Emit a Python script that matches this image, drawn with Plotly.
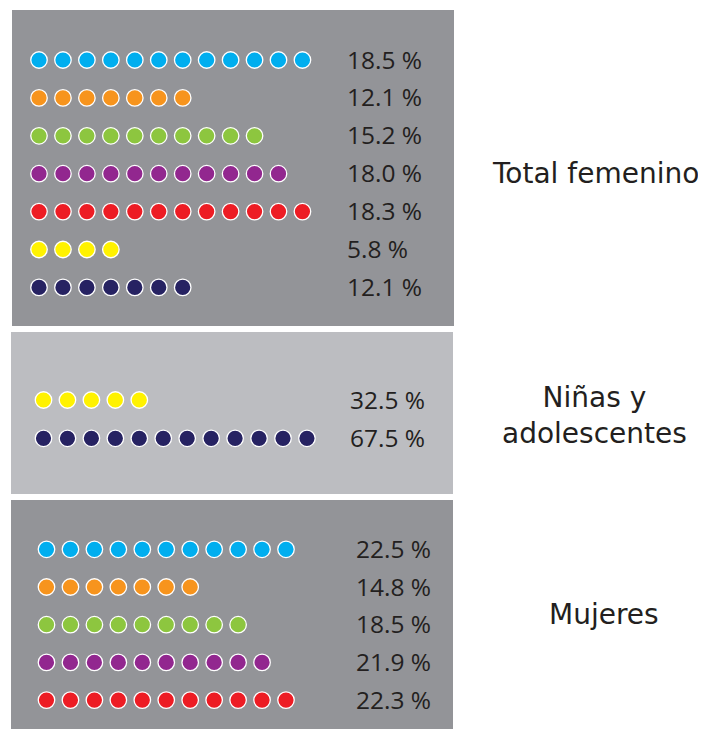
import plotly.graph_objects as go

# ---- data ----
group_labels = ["Total femenino", "Niñas y<br>adolescentes", "Mujeres"]
total_counts = [12, 7, 10, 11, 12, 4, 7]
total_pcts = ["18.5 %", "12.1 %", "15.2 %", "18.0 %", "18.3 %", "5.8 %", "12.1 %"]
total_colors = ["#00aeef", "#f7941d", "#8dc63f", "#92278f", "#ed1c24", "#fff200", "#262262"]
ninas_counts = [5, 12]
ninas_pcts = ["32.5 %", "67.5 %"]
ninas_colors = ["#fff200", "#262262"]
mujeres_counts = [11, 7, 9, 10, 11]
mujeres_pcts = ["22.5 %", "14.8 %", "18.5 %", "21.9 %", "22.3 %"]
mujeres_colors = ["#00aeef", "#f7941d", "#8dc63f", "#92278f", "#ed1c24"]

# ---- layout (page pixel coordinates; page body has an 8px offset) ----
W, H = 706, 729
OFF = 8
panels = [
    dict(counts=total_counts, pcts=total_pcts, colors=total_colors, label=group_labels[0],
         box=(12, 10, 454, 326), bg="#939498", x0=39, y0=60, dy=37.9, tx=346, lx=595, ly=173),
    dict(counts=ninas_counts, pcts=ninas_pcts, colors=ninas_colors, label=group_labels[1],
         box=(11, 332, 453, 494), bg="#bcbdc1", x0=43.5, y0=400, dy=38.3, tx=349, lx=594, ly=415),
    dict(counts=mujeres_counts, pcts=mujeres_pcts, colors=mujeres_colors, label=group_labels[2],
         box=(11, 500, 453, 760), bg="#939498", x0=46.5, y0=549.3, dy=37.7, tx=355, lx=604, ly=614),
]
DX = 23.95

fig = go.Figure()
shapes = []
annotations = []
for p in panels:
    x0b, y0b, x1b, y1b = p["box"]
    shapes.append(dict(type="rect", xref="x", yref="y", x0=x0b, y0=y0b, x1=x1b, y1=y1b,
                       fillcolor=p["bg"], line=dict(width=0), layer="below"))
    for r, (n, pct, col) in enumerate(zip(p["counts"], p["pcts"], p["colors"])):
        y = p["y0"] + r * p["dy"]
        fig.add_trace(go.Scatter(
            x=[p["x0"] + i * DX for i in range(n)], y=[y] * n, mode="markers",
            marker=dict(size=16.5, color=col, line=dict(color="white", width=1.3)),
            hoverinfo="skip", showlegend=False, cliponaxis=False))
        annotations.append(dict(x=p["tx"] - 1, y=y - 1, xref="x", yref="y", text=pct, showarrow=False,
                                xanchor="left", yanchor="middle",
                                font=dict(family="Open Sans", size=24.5, color="#231f20")))
    annotations.append(dict(x=p["lx"], y=p["ly"], xref="x", yref="y", text=p["label"], showarrow=False,
                            xanchor="center", yanchor="middle", align="center",
                            font=dict(family="DejaVu Sans", size=28, color="#231f20")))

fig.update_layout(
    width=W, height=H, margin=dict(l=0, r=0, t=0, b=0),
    paper_bgcolor="white", plot_bgcolor="white",
    xaxis=dict(range=[OFF, W + OFF], visible=False, fixedrange=True),
    yaxis=dict(range=[H + OFF, OFF], visible=False, fixedrange=True),
    shapes=shapes, annotations=annotations,
)
fig.write_html("out.html")
